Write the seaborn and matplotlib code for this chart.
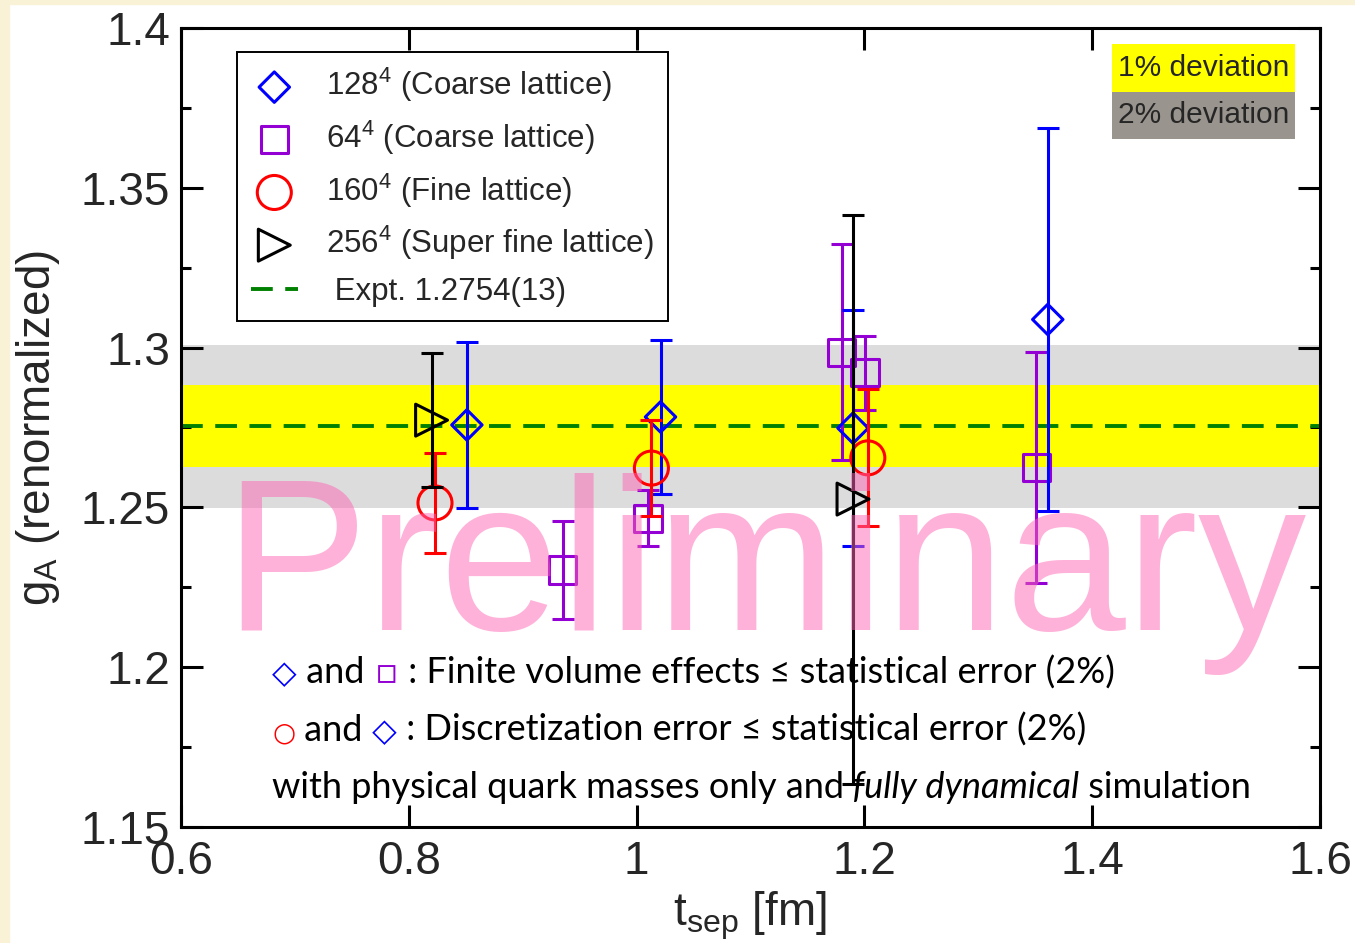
import numpy as np
import pandas as pd
import matplotlib
matplotlib.use("Agg")
import matplotlib.pyplot as plt
import seaborn as sns
from matplotlib.patches import Rectangle
from matplotlib.ticker import FixedLocator, FixedFormatter, MultipleLocator

# ---------------------------------------------------------------- data
t_128 = [0.851, 1.021, 1.190, 1.361]
g_128 = [1.2758, 1.2783, 1.2748, 1.3088]
e_128 = [0.026, 0.024, 0.037, 0.060]

t_64 = [0.935, 1.010, 1.180, 1.2005, 1.351]
g_64 = [1.2304, 1.2466, 1.2986, 1.2921, 1.2626]
e_64 = [0.0153, 0.0087, 0.0338, 0.0116, 0.0361]

t_160 = [0.823, 1.013, 1.203]
g_160 = [1.2514, 1.2623, 1.2655]
e_160 = [0.0157, 0.0150, 0.0214]

t_256 = [0.820, 1.190]
g_256 = [1.2773, 1.2526]
e_256 = [0.021, 0.089]

g_expt = 1.2754
expt_label = " Expt. 1.2754(13)"
band_fracs = [0.02, 0.01]
band_labels = ["1% deviation", "2% deviation"]

lattice_names = ["128^4", "64^4", "160^4", "256^4"]
lattice_labels = ["128$^4$ (Coarse lattice)", "64$^4$ (Coarse lattice)",
                  "160$^4$ (Fine lattice)", "256$^4$ (Super fine lattice)"]

x_ticks = [0.6, 0.8, 1.0, 1.2, 1.4, 1.6]
x_ticklabels = ["0.6", "0.8", "1", "1.2", "1.4", "1.6"]
y_ticks = [1.15, 1.2, 1.25, 1.3, 1.35, 1.4]
y_ticklabels = ["1.15", "1.2", "1.25", "1.3", "1.35", "1.4"]

df = pd.concat([
    pd.DataFrame({"t": t_128, "gA": g_128, "err": e_128, "lattice": "128^4"}),
    pd.DataFrame({"t": t_64, "gA": g_64, "err": e_64, "lattice": "64^4"}),
    pd.DataFrame({"t": t_160, "gA": g_160, "err": e_160, "lattice": "160^4"}),
    pd.DataFrame({"t": t_256, "gA": g_256, "err": e_256, "lattice": "256^4"}),
], ignore_index=True)

# ---------------------------------------------------------------- style
sns.set_theme(style="white")
plt.rcParams["font.family"] = ["Liberation Sans", "DejaVu Sans"]
plt.rcParams["mathtext.fontset"] = "custom"
plt.rcParams["mathtext.rm"] = "Liberation Sans"
plt.rcParams["mathtext.it"] = "Liberation Sans"
plt.rcParams["mathtext.default"] = "regular"

styles = {
    "128^4": dict(color="#0000FF", marker="D", s=15.5 ** 2, z=4),
    "64^4": dict(color="#9400D3", marker="s", s=19.5 ** 2, z=3),
    "160^4": dict(color="#FF0000", marker="o", s=24.5 ** 2, z=5),
    "256^4": dict(color="#000000", marker=">", s=23 ** 2, z=6),
}
LW = 2.2

fig = plt.figure(figsize=(13.55, 9.43), dpi=100)
fig.patch.set_facecolor("white")
# cream page edge on the left and top
fig.add_artist(Rectangle((0, 0), 9 / 1355, 1, transform=fig.transFigure,
                         color="#FAF2D7", zorder=-10))
fig.add_artist(Rectangle((0, 1 - 4 / 943), 1, 4 / 943, transform=fig.transFigure,
                         color="#FAF2D7", zorder=-10))

ax = fig.add_axes([181 / 1355, 1 - 827 / 943, 1139 / 1355, 799 / 943])
ax.set_xlim(0.6, 1.6)
ax.set_ylim(1.15, 1.4)

# deviation bands around the experimental value
band_colors = ["#DCDCDC", "#FFFF00"]
for frac, col in zip(band_fracs, band_colors):
    ax.axhspan(g_expt * (1 - frac), g_expt * (1 + frac), color=col, lw=0, zorder=0)

expt_line = ax.axhline(g_expt, color="#008000", lw=2.8, dashes=(5.6, 3.2), zorder=1,
                       label=expt_label)

handles = {}
for name in ["64^4", "128^4", "160^4", "256^4"]:
    st = styles[name]
    sub = df[df["lattice"] == name]
    ax.errorbar(sub["t"], sub["gA"], yerr=sub["err"], fmt="none",
                ecolor=st["color"], elinewidth=LW, capsize=8, capthick=LW,
                zorder=st["z"])
    sns.scatterplot(data=sub, x="t", y="gA", marker=st["marker"], s=st["s"],
                    color=st["color"], facecolor="none", edgecolor=st["color"],
                    linewidth=LW, zorder=st["z"] + 0.5, ax=ax, legend=False)
    handles[name] = ax.collections[-1]

leg = ax.legend([handles[n] for n in lattice_names] + [expt_line],
                lattice_labels + [expt_label],
                loc="upper left", bbox_to_anchor=(0.049, 0.970), borderaxespad=0,
                fontsize=22.5, frameon=True, fancybox=False, edgecolor="black",
                framealpha=1, borderpad=0.45, labelspacing=0.46, handlelength=1.5,
                handletextpad=0.9, scatterpoints=1)
leg.get_frame().set_linewidth(1.4)
leg.set_zorder(8)

# deviation key boxes (top right)
key_x0, key_w, key_h = 0.8174, 0.161, 0.0595
for i, (lab, col) in enumerate(zip(band_labels, ["#FFFF00", "#9A948E"])):
    y0 = 0.980 - (i + 1) * key_h
    ax.add_patch(Rectangle((key_x0, y0), key_w, key_h, transform=ax.transAxes,
                           color=col, lw=0, zorder=8))
    ax.text(key_x0 + key_w / 2, y0 + key_h / 2, lab, transform=ax.transAxes,
            ha="center", va="center", fontsize=21.5, zorder=9)

# annotation lines built from coloured pieces sharing one baseline
TXT_FAM = ["Lato", "DejaVu Sans"]
SYM_FAM = ["DejaVu Sans"]


def text_run(pieces, x0, y, size=26):
    prev = None
    for s, col, style, fam, fs in pieces:
        kw = dict(color=col, fontsize=fs or size, fontstyle=style, family=fam,
                  va="baseline", ha="left", zorder=7)
        if prev is None:
            prev = ax.text(x0, y, s, transform=ax.transAxes, **kw)
        else:
            prev = ax.annotate(s, xy=(1, y), xycoords=(prev, ax.transAxes), **kw)


text_run([("◇", "#0000FF", "normal", SYM_FAM, 23),
          (" and", "black", "normal", TXT_FAM, None),
          (" ▫", "#9400D3", "normal", SYM_FAM, 25),
          (" : Finite volume effects ≤ statistical error (2%)", "black", "normal", TXT_FAM, None)],
         0.0799, 0.180)
text_run([("○", "#FF0000", "normal", SYM_FAM, 19),
          (" and", "black", "normal", TXT_FAM, None),
          (" ◇", "#0000FF", "normal", SYM_FAM, 23),
          (" : Discretization error ≤ statistical error (2%)", "black", "normal", TXT_FAM, None)],
         0.0799, 0.108)
text_run([("with physical quark masses only and", "black", "normal", TXT_FAM, None),
          (" fully dynamical", "black", "italic", TXT_FAM, None),
          (" simulation", "black", "normal", TXT_FAM, None)],
         0.0799, 0.036)

# watermark
ax.text(0.037, 0.2466, "Preliminary", transform=ax.transAxes, fontsize=156,
        color="#FF66B4", alpha=0.5, family="Liberation Sans", va="baseline",
        ha="left", zorder=10)

# axes, ticks and labels
for sp in ax.spines.values():
    sp.set_linewidth(LW)
    sp.set_color("black")
    sp.set_visible(True)
ax.xaxis.set_major_locator(FixedLocator(x_ticks))
ax.xaxis.set_major_formatter(FixedFormatter(x_ticklabels))
ax.yaxis.set_major_locator(FixedLocator(y_ticks))
ax.yaxis.set_major_formatter(FixedFormatter(y_ticklabels))
ax.yaxis.set_minor_locator(MultipleLocator(0.025))
ax.tick_params(which="both", direction="in", top=True, right=True,
               bottom=True, left=True, width=LW, color="black")
ax.tick_params(which="major", length=15.8, labelsize=33, pad=8)
ax.tick_params(which="minor", length=7.2)
ax.tick_params(axis="x", which="major", pad=9)

ax.set_xlabel("t$_{sep}$ [fm]", fontsize=33, labelpad=4)
ax.set_ylabel("g$_A$ (renormalized)", fontsize=33, labelpad=13)

fig.savefig("out.png", dpi=100, facecolor=fig.get_facecolor())
